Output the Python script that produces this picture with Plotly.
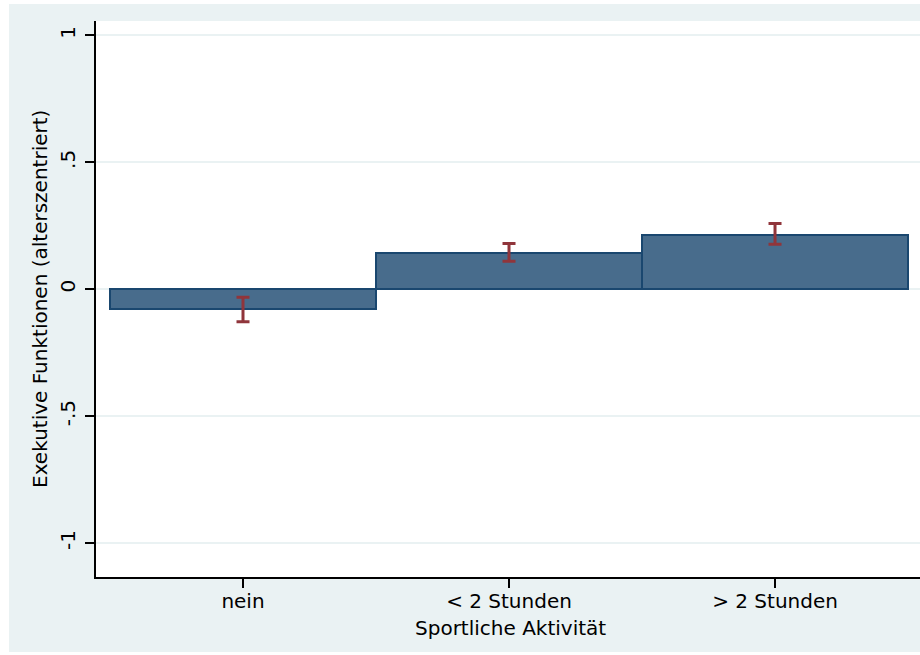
import plotly.graph_objects as go

# Sport activity groups and age-centred executive-function scores
categories = ["nein", "< 2 Stunden", "> 2 Stunden"]
means = [-0.079, 0.142, 0.214]
ci_low = [-0.128, 0.110, 0.177]
ci_high = [-0.032, 0.180, 0.259]

y_tickvals = [-1, -0.5, 0, 0.5, 1]
y_ticktext = ["-1", "-.5", "0", ".5", "1"]

x_pos = list(range(1, len(categories) + 1))
err_plus = [h - m for h, m in zip(ci_high, means)]
err_minus = [m - l for m, l in zip(means, ci_low)]

BG = "#EAF2F3"
NAVY = "#1A476F"
BAR_FILL = "#486C8C"
MAROON = "#90353B"
FONT = "DejaVu Sans"

fig = go.Figure()

fig.add_trace(go.Bar(
    x=x_pos,
    y=means,
    width=1.0,
    marker=dict(color=BAR_FILL, line=dict(color=NAVY, width=2)),
    hoverinfo="skip",
    showlegend=False,
))

fig.add_trace(go.Scatter(
    x=x_pos,
    y=means,
    mode="markers",
    marker=dict(size=1, color="rgba(0,0,0,0)"),
    error_y=dict(
        type="data",
        symmetric=False,
        array=err_plus,
        arrayminus=err_minus,
        color=MAROON,
        thickness=3,
        width=6.5,
    ),
    hoverinfo="skip",
    showlegend=False,
))

# plot area spans 96..920 px horizontally and 21..577 px vertically
W, H = 920, 655
L, R, T, B = 96, 0, 21, 78
pw, ph = W - L - R, H - T - B


def px_x(px):
    return (px - L) / pw


def px_y(py):
    return (H - B - py) / ph


# thin white border around the tinted page
border = [
    (px_x(0), px_y(0), px_x(W), px_y(4)),
    (px_x(0), px_y(0), px_x(9), px_y(H)),
    (px_x(0), px_y(652), px_x(W), px_y(H)),
]
for x0, y0, x1, y1 in border:
    fig.add_shape(type="rect", xref="paper", yref="paper",
                  x0=x0, y0=y0, x1=x1, y1=y1,
                  fillcolor="white", line=dict(width=0), layer="below")

fig.add_annotation(
    text="Exekutive Funktionen (alterszentriert)",
    xref="paper", yref="paper",
    x=px_x(40), y=0.5,
    xanchor="center", yanchor="middle",
    textangle=-90, showarrow=False,
    font=dict(family=FONT, size=20, color="black"),
)
fig.add_annotation(
    text="Sportliche Aktivität",
    xref="paper", yref="paper",
    x=px_x(510), y=px_y(628),
    xanchor="center", yanchor="middle",
    showarrow=False,
    font=dict(family=FONT, size=20, color="black"),
)

fig.update_layout(
    width=W, height=H, autosize=False,
    margin=dict(l=L, r=R, t=T, b=B, pad=0),
    paper_bgcolor=BG,
    plot_bgcolor="white",
    bargap=0,
    font=dict(family=FONT, size=20, color="black"),
)

fig.update_xaxes(
    range=[0.4474, 3.545],
    tickmode="array",
    tickvals=x_pos,
    ticktext=categories,
    ticks="outside", ticklen=9, tickwidth=1.5, tickcolor="black",
    ticklabelstandoff=-4,
    showline=True, linecolor="black", linewidth=1.5,
    showgrid=False, zeroline=False,
    tickfont=dict(family=FONT, size=20, color="black"),
)

fig.update_yaxes(
    range=[-1.134, 1.057],
    tickmode="array",
    tickvals=y_tickvals,
    ticktext=y_ticktext,
    tickangle=-90,
    ticks="outside", ticklen=9, tickwidth=1.5, tickcolor="black",
    ticklabelstandoff=2,
    showline=True, linecolor="black", linewidth=1.5,
    showgrid=True, gridcolor=BG, gridwidth=2,
    zeroline=False,
    tickfont=dict(family=FONT, size=20, color="black"),
)

fig.write_html("out.html")
